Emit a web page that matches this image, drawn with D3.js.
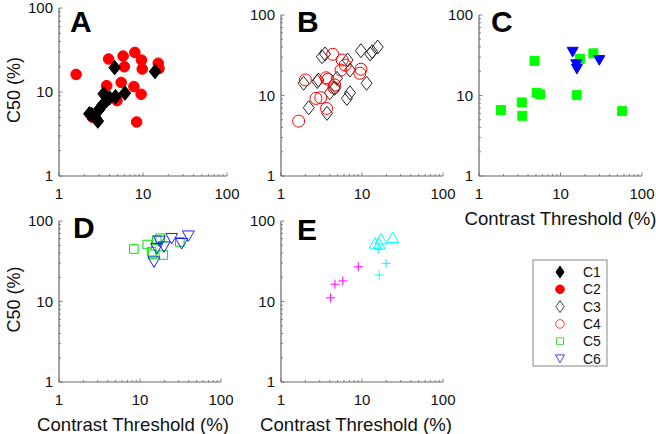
<!DOCTYPE html>
<html>
<head>
<meta charset="utf-8">
<script src="https://cdn.jsdelivr.net/npm/d3@7"></script>
<style>
  body { margin: 0; background: #fff; }
  svg { display: block; font-family: "Liberation Sans", Arial, Helvetica, sans-serif; }
</style>
</head>
<body>
<svg id="chart" width="656" height="434"></svg>
<script>
// values, [contrast threshold %, C50 %]
var c1 = [[4.6, 19.5], [13.9, 17.5], [6.1, 9.7], [4.7, 8.8], [3.4, 9.5], [3.7, 8.0], [4.0, 8.5],
  [3.3, 7.0], [3.0, 6.2], [2.45, 5.4], [2.3, 5.5], [2.7, 5.0], [2.9, 4.5]];
var c2 = [[1.6, 16.2], [3.9, 24.7], [5.8, 26.8], [8.0, 29.6], [9.6, 24], [9.8, 18.8], [15.2, 22],
  [15.5, 19.1], [6.0, 20], [3.7, 11.9], [5.5, 13], [7.8, 11.6], [9.5, 9.4], [8.4, 4.4],
  [4.9, 7.9], [2.5, 5.0]];
var c3 = [[3.2, 30.3], [3.5, 32.8], [9.7, 36], [12.6, 32.8], [13.4, 35], [15.6, 40], [6.65, 27.6],
  [7.1, 20.7], [2.9, 15.6], [1.9, 14.2], [2.8, 14.9], [4.9, 16.3], [4.6, 12.3], [4.0, 10.8],
  [7.1, 10.8], [6.5, 9.2], [2.2, 7.05], [3.7, 6.0], [11.4, 14.2]];
var c4 = [[1.65, 4.8], [2.0, 15.6], [4.35, 32.5], [5.7, 27.6], [6.2, 23.9], [5.5, 20.7], [9.7, 21.2],
  [9.4, 18.9], [3.6, 16.6], [3.8, 15.9], [4.6, 13.5], [4.5, 12.5], [2.7, 9.2], [3.1, 9.4],
  [3.65, 6.9]];
var c5C = [[1.86, 6.6], [3.35, 8.2], [3.4, 5.6], [4.8, 26.9], [5.1, 10.8], [5.6, 10.3], [15.8, 10.1],
  [17.3, 28.5], [25.3, 33.4], [57, 6.4]];
var c6C = [[14.1, 35], [15.6, 24.5], [15.9, 21.5], [29.9, 27.6]];
var c5D = [[8.4, 44.9], [12.3, 51], [13.9, 41.6], [14.3, 38.5], [16.1, 58], [17.7, 61], [19.4, 37.8],
  [31, 55]];
var c6D = [[14.9, 31.2], [16.1, 45.8], [17.3, 56.5], [19.8, 48], [24.6, 61], [32.7, 52.8], [39.5, 65.6]];
var plusMagenta = [[4.1, 11.1], [4.64, 16.4], [5.8, 18], [9.0, 27]];
var plusCyan = [[16.3, 21.3], [19.8, 29.8], [15.9, 44.5]];
var triCyan = [[14.5, 52.8], [16.3, 51.5], [17.1, 59.6], [23.9, 62]];

var tickValues = [1, 10, 100];
var tickLabels = ["1", "10", "100"];
var legendNames = ["C1", "C2", "C3", "C4", "C5", "C6"];

var svg = d3.select("#chart");

// marker paths, centred on 0,0
function diamond(w, h) { return "M0," + (-h) + "L" + w + ",0L0," + h + "L" + (-w) + ",0Z"; }
function square(s) { return "M" + (-s) + "," + (-s) + "h" + 2 * s + "v" + 2 * s + "h" + (-2 * s) + "Z"; }
function triDown(s) { return "M" + (-s) + "," + (-s * 0.8) + "L" + s + "," + (-s * 0.8) + "L0," + (s * 0.95) + "Z"; }
function triUp(s) { return "M" + (-s) + "," + (s * 0.8) + "L" + s + "," + (s * 0.8) + "L0," + (-s * 0.95) + "Z"; }
function plus(s) { return "M" + (-s) + ",0H" + s + "M0," + (-s) + "V" + s; }

var styles = {
  c1: { path: diamond(5.8, 7.2), fill: "#000", stroke: "#000", sw: 1 },
  c2: { circle: 5.3, fill: "#ff0000", stroke: "#ff0000", sw: 1 },
  c3: { path: diamond(5.5, 7), fill: "none", stroke: "#222", sw: 1 },
  c4: { circle: 6, fill: "none", stroke: "#ff0000", sw: 1 },
  c5f: { path: square(4.5), fill: "#00ff00", stroke: "#00ff00", sw: 1 },
  c6f: { path: triDown(5.5), fill: "#0000ff", stroke: "#0000ff", sw: 1 },
  c5o: { path: square(4.3), fill: "none", stroke: "#00e000", sw: 1 },
  c6o: { path: triDown(6), fill: "none", stroke: "#2020ff", sw: 1 },
  pm: { path: plus(4.5), fill: "none", stroke: "#ff00ff", sw: 1 },
  pc: { path: plus(4.5), fill: "none", stroke: "#00ffff", sw: 1 },
  tc: { path: triUp(6), fill: "none", stroke: "#00ffff", sw: 1 }
};

var panels = [
  { letter: "A", lx: 70, ly: 32, x: [59, 227], y: [176, 8], ylab: true, xlab: false,
    series: [[c2, "c2"], [c1, "c1"]] },
  { letter: "B", lx: 297, ly: 32, x: [281, 443], y: [176, 15], ylab: false, xlab: false,
    series: [[c3, "c3"], [c4, "c4"]] },
  { letter: "C", lx: 491, ly: 32, x: [479, 642], y: [176, 15], ylab: false, xlab: true, labShift: 0,
    series: [[c5C, "c5f"], [c6C, "c6f"]] },
  { letter: "D", lx: 73, ly: 238, x: [59, 221], y: [382, 221], ylab: true, xlab: true, labShift: -7,
    series: [[c5D, "c5o"], [c6D, "c6o"]] },
  { letter: "E", lx: 297, ly: 240, x: [281, 443], y: [382, 221], ylab: false, xlab: true, labShift: -6,
    series: [[plusMagenta, "pm"], [plusCyan, "pc"], [triCyan, "tc"]] }
];

function drawMarker(g, st, x, y) {
  var m;
  if (st.circle) m = g.append("circle").attr("cx", x).attr("cy", y).attr("r", st.circle);
  else m = g.append("path").attr("d", st.path).attr("transform", "translate(" + x + "," + y + ")");
  m.attr("fill", st.fill).attr("stroke", st.stroke).attr("stroke-width", st.sw);
}

var minor = [];
[1, 10].forEach(function (dec) { for (var k = 2; k <= 9; k++) minor.push(k * dec); });

panels.forEach(function (p) {
  var xs = d3.scaleLog().domain([1, 100]).range(p.x);
  var ys = d3.scaleLog().domain([1, 100]).range(p.y);
  var g = svg.append("g");
  var axisCol = "#666";

  // axis lines (box off)
  g.append("line").attr("x1", p.x[0]).attr("x2", p.x[1]).attr("y1", p.y[0]).attr("y2", p.y[0])
    .attr("stroke", axisCol).attr("stroke-width", 1.2);
  g.append("line").attr("x1", p.x[0]).attr("x2", p.x[0]).attr("y1", p.y[0]).attr("y2", p.y[1])
    .attr("stroke", axisCol).attr("stroke-width", 1.2);

  // inward ticks
  tickValues.concat(minor).forEach(function (v) {
    var len = tickValues.indexOf(v) >= 0 ? 3.5 : 2;
    g.append("line").attr("x1", xs(v)).attr("x2", xs(v)).attr("y1", p.y[0]).attr("y2", p.y[0] - len)
      .attr("stroke", axisCol).attr("stroke-width", 0.8);
    g.append("line").attr("x1", p.x[0]).attr("x2", p.x[0] + len).attr("y1", ys(v)).attr("y2", ys(v))
      .attr("stroke", axisCol).attr("stroke-width", 0.8);
  });

  tickValues.forEach(function (v, i) {
    g.append("text").attr("x", xs(v)).attr("y", p.y[0] + 23).attr("text-anchor", "middle")
      .attr("font-size", 15).attr("fill", "#111").text(tickLabels[i]);
    g.append("text").attr("x", p.x[0] - 6).attr("y", ys(v) + 5.4).attr("text-anchor", "end")
      .attr("font-size", 15).attr("fill", "#111").text(tickLabels[i]);
  });

  if (p.xlab) {
    g.append("text").attr("x", (p.x[0] + p.x[1]) / 2 + p.labShift).attr("y", p.y[0] + 49)
      .attr("text-anchor", "middle").attr("font-size", 18.6).attr("fill", "#111")
      .text("Contrast Threshold (%)");
  }
  if (p.ylab) {
    var cy = (p.y[0] + p.y[1]) / 2 - 2;
    g.append("text").attr("transform", "translate(20," + cy + ") rotate(-90)")
      .attr("text-anchor", "middle").attr("font-size", 18).attr("fill", "#111").text("C50 (%)");
  }

  g.append("text").attr("x", p.lx).attr("y", p.ly).attr("font-size", 30).attr("font-weight", "bold")
    .attr("fill", "#000").text(p.letter);

  p.series.forEach(function (s) {
    var st = styles[s[1]];
    s[0].forEach(function (d) { drawMarker(g, st, xs(d[0]), ys(d[1])); });
  });
});

// legend
var legendStyles = [
  { path: diamond(4, 6), fill: "#000", stroke: "#000", sw: 1 },
  { circle: 4.3, fill: "#ff0000", stroke: "#ff0000", sw: 1 },
  { path: diamond(4, 6), fill: "none", stroke: "#444", sw: 1 },
  { circle: 4.3, fill: "none", stroke: "#ff4040", sw: 1 },
  { path: square(3.5), fill: "none", stroke: "#40e040", sw: 1 },
  { path: triDown(4.5), fill: "none", stroke: "#4040ff", sw: 1 }
];
var lg = svg.append("g");
lg.append("rect").attr("x", 533).attr("y", 260).attr("width", 74).attr("height", 106)
  .attr("fill", "#fff").attr("stroke", "#888").attr("stroke-width", 1);
var ly = d3.scaleLinear().domain([0, 5]).range([272, 358.5]);
legendNames.forEach(function (n, i) {
  drawMarker(lg, legendStyles[i], 560, ly(i));
  lg.append("text").attr("x", 583).attr("y", ly(i) + 5).attr("font-size", 14).attr("fill", "#111").text(n);
});
</script>
</body>
</html>
